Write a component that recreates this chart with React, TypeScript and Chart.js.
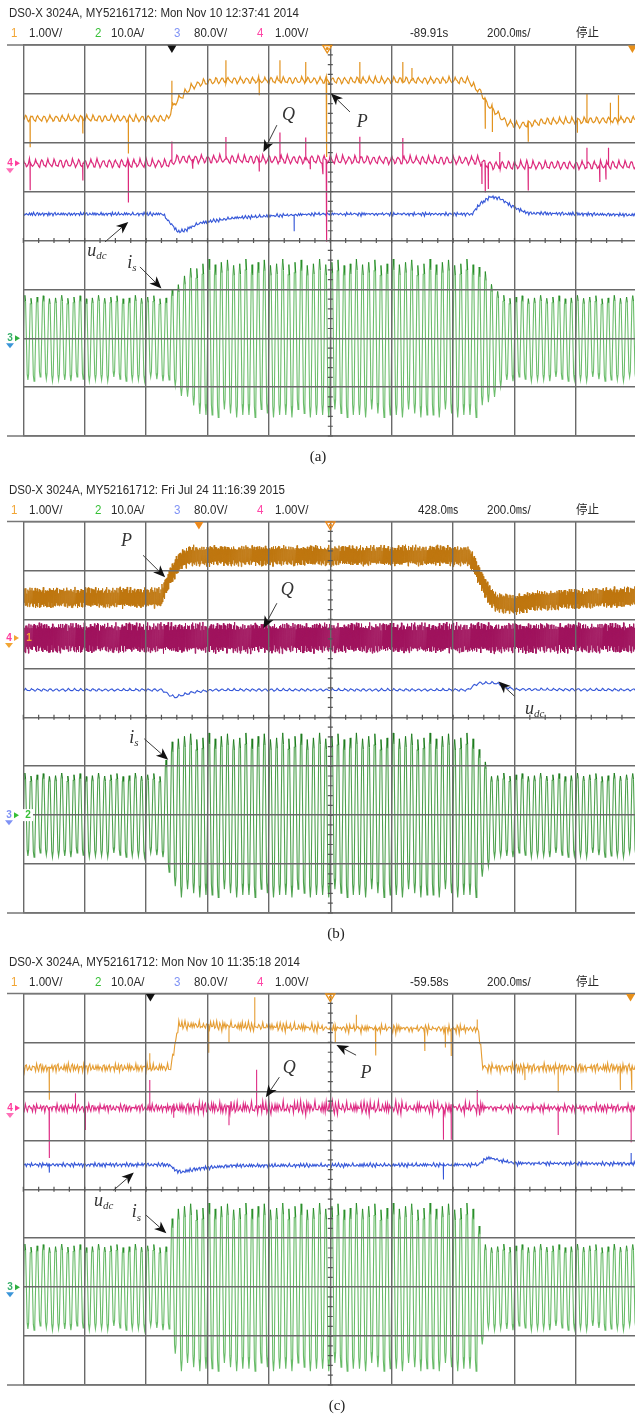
import React, { useEffect, useRef } from 'react';
import { Chart, registerables } from 'chart.js';

Chart.register(...registerables);

// ---------------- shared tables ----------------
const JIT1 = [0.62, -0.85, 0.14, 0.97, -0.33, -0.71, 0.48, 0.05, -0.94, 0.77, -0.12, 0.36, -0.58, 0.89, -0.27, -0.66, 0.21, 0.93, -0.45, 0.08, -0.81, 0.55, 0.3, -0.99, 0.71, -0.18, 0.42, -0.6, 0.84, -0.38, 0.12];
const JIT2 = [0.3, -0.8, 0.9, -0.2, -0.6, 0.7, 0.1, -0.95, 0.5, -0.4, 0.85, -0.1, -0.7, 0.6, 0.25, -0.5, 0.95];
const RIPPLE = [-0.8, 0.1, 1.0, 0.4, -0.3, -0.9];
const IS_PEAK_VAR = [1.0, 0.97, 0.93, 1.0, 0.96, 0.9, 0.99, 0.95, 0.92, 1.0, 0.94, 0.97];
const IS_SHOULDER = 0.86;

const CH_NUM = ['1', '2', '3', '4'];
const CH_SCALE = ['1.00V/', '10.0A/', '80.0V/', '1.00V/'];
const CH_COLOR = ['#f2a533', '#36bf36', '#7f92f5', '#ff45a6'];
const TIMEBASE = '200.0㎳/';
const RUN_STATE = '停止';
const IS_CENTER = 2.0;

// ---------------- panel (a) ----------------
const A_TITLE = 'DS0-X 3024A, MY52161712: Mon Nov 10 12:37:41 2014';
const A_DELAY = '-89.91s';
const A_CAPTION = '(a)';
const A_P_X = [0, 2.36, 2.42, 2.5, 2.6, 2.72, 2.9, 3.2, 7.25, 7.32, 7.47, 7.55, 7.71, 7.87, 8.04, 8.5, 10];
const A_P_Y = [6.5, 6.5, 6.72, 6.86, 6.98, 7.13, 7.23, 7.28, 7.28, 7.18, 7.01, 6.81, 6.61, 6.42, 6.36, 6.44, 6.48];
const A_P_SPIKES: [number, number][] = [[0.11, -0.59], [0.97, -0.31], [1.71, -0.72], [2.42, 0.55], [3.3, 0.41], [3.84, -0.31], [4.18, 0.41], [4.6, 0.37], [4.94, -1.57], [5.48, 0.37], [6.18, 0.37], [6.33, 0.25], [7.52, -0.6], [7.64, -0.48], [8.22, -0.37], [9.02, -0.25], [9.18, 0.55], [9.56, 0.35], [9.69, 0.5]];
const A_Q_X = [0, 2.4, 2.5, 7.4, 7.6, 10];
const A_Q_Y = [5.58, 5.58, 5.67, 5.64, 5.54, 5.55];
const A_Q_SPIKES: [number, number][] = [[0.11, -0.55], [0.97, -0.35], [1.71, -0.8], [2.42, 0.43], [2.76, -0.2], [3.3, 0.45], [3.84, -0.25], [4.18, 0.55], [4.6, 0.45], [4.67, -0.2], [4.88, -0.3], [4.94, -1.68], [5.48, 0.47], [6.18, 0.45], [7.47, -0.45], [7.52, -0.6], [7.57, -0.5], [7.76, 0.27], [8.22, -0.52], [9.18, 0.35], [9.39, -0.35], [9.49, -0.3], [9.53, 0.35]];
const A_U_X = [0, 2.27, 2.4, 2.52, 2.65, 2.88, 3.42, 3.97, 4.78, 7.31, 7.44, 7.6, 7.77, 7.93, 8.2, 10];
const A_U_Y = [4.54, 4.54, 4.35, 4.17, 4.22, 4.36, 4.46, 4.5, 4.54, 4.54, 4.75, 4.89, 4.86, 4.72, 4.56, 4.52];
const A_U_SPIKES: [number, number][] = [[4.41, -0.33]];
const A_IS_RUNS: [number, number][] = [[24, 0.88], [1, 1.0], [1, 1.18], [1, 1.33], [1, 1.45], [1, 1.55], [45, 1.62], [1, 1.52], [1, 1.38], [1, 1.2], [1, 1.02], [22, 0.88]];

// ---------------- panel (b) ----------------
const B_TITLE = 'DS0-X 3024A, MY52161712: Fri Jul 24 11:16:39 2015';
const B_DELAY = '428.0㎳';
const B_CAPTION = '(b)';
const B_P_X = [0, 2.24, 2.3, 2.38, 2.47, 2.56, 2.72, 7.22, 7.3, 7.38, 7.47, 7.58, 7.72, 8.0, 8.4, 9.4, 10];
const B_P_Y = [6.44, 6.44, 6.62, 6.85, 7.05, 7.2, 7.3, 7.3, 7.2, 7.0, 6.78, 6.52, 6.33, 6.31, 6.38, 6.44, 6.46];
const B_Q_X = [0, 10];
const B_Q_Y = [5.62, 5.62];
const B_U_X = [0, 2.26, 2.36, 2.47, 2.6, 2.75, 3.1, 7.24, 7.33, 7.42, 7.7, 7.85, 8.0, 10];
const B_U_Y = [4.56, 4.56, 4.47, 4.41, 4.46, 4.51, 4.56, 4.56, 4.64, 4.7, 4.7, 4.62, 4.57, 4.56];
const B_IS_RUNS: [number, number][] = [[23, 0.86], [1, 1.2], [1, 1.5], [49, 1.68], [1, 1.4], [1, 1.1], [24, 0.86]];

// ---------------- panel (c) ----------------
const C_TITLE = 'DS0-X 3024A, MY52161712: Mon Nov 10 11:35:18 2014';
const C_DELAY = '-59.58s';
const C_CAPTION = '(c)';
const C_P_X = [0, 2.4, 2.53, 3.5, 5.0, 7.41, 7.49, 10];
const C_P_Y = [6.48, 6.48, 7.35, 7.33, 7.29, 7.27, 6.48, 6.48];
const C_P_SPIKES: [number, number][] = [[0.42, -0.65], [2.06, 0.3], [3.02, -0.55], [3.35, -0.33], [3.77, 0.6], [5.08, -0.28], [5.42, 0.28], [5.74, -0.55], [6.54, -0.45], [6.87, -0.38], [6.97, -0.55], [7.39, 0.2], [8.17, -0.25], [8.71, -0.5], [9.72, -0.45], [9.91, -0.45]];
const C_Q_X = [0, 10];
const C_Q_Y = [5.66, 5.66];
const C_Q_NOISE_X = [0, 2.4, 2.5, 7.45, 7.55, 10];
const C_Q_NOISE_A = [0.09, 0.09, 0.15, 0.15, 0.09, 0.09];
const C_Q_SPIKES: [number, number][] = [[0.42, -1.02], [0.85, 0.3], [1.01, -0.45], [2.06, 0.57], [2.45, -0.2], [3.35, -0.35], [3.8, 0.78], [6.84, -0.65], [6.97, -0.65], [7.39, 0.37], [8.71, -0.55], [9.9, -0.7]];
const C_U_X = [0, 2.38, 2.48, 2.56, 2.9, 3.4, 7.42, 7.5, 7.58, 7.8, 8.0, 10];
const C_U_Y = [4.5, 4.5, 4.38, 4.35, 4.43, 4.48, 4.5, 4.6, 4.64, 4.58, 4.53, 4.52];
const C_U_SPIKES: [number, number][] = [[0.42, -0.16], [6.84, -0.3], [9.9, 0.22]];
const C_IS_RUNS: [number, number][] = [[24, 0.88], [1, 1.4], [49, 1.72], [1, 1.3], [25, 0.88]];

// ---------------- annotations (division units) ----------------
type Ann = { t: string; sub?: string; lx: number; ly: number; ax: number; ay: number; hx: number; hy: number };
const A_ANN: Ann[] = [
  { t: 'P', lx: 5.52, ly: 6.42, ax: 5.32, ay: 6.63, hx: 5.01, hy: 7.01 },
  { t: 'Q', lx: 4.32, ly: 6.56, ax: 4.13, ay: 6.36, hx: 3.91, hy: 5.81 },
  { t: 'u', sub: 'dc', lx: 1.2, ly: 3.78, ax: 1.33, ay: 3.97, hx: 1.71, hy: 4.38 },
  { t: 'i', sub: 's', lx: 1.77, ly: 3.53, ax: 1.9, ay: 3.46, hx: 2.25, hy: 3.02 },
];
const B_ANN: Ann[] = [
  { t: 'P', lx: 1.68, ly: 7.59, ax: 1.95, ay: 7.31, hx: 2.31, hy: 6.86 },
  { t: 'Q', lx: 4.3, ly: 6.6, ax: 4.13, ay: 6.33, hx: 3.91, hy: 5.82 },
  { t: 'u', sub: 'dc', lx: 8.33, ly: 4.16, ax: 8.0, ay: 4.43, hx: 7.74, hy: 4.73 },
  { t: 'i', sub: 's', lx: 1.8, ly: 3.57, ax: 1.97, ay: 3.56, hx: 2.36, hy: 3.13 },
];
const C_ANN: Ann[] = [
  { t: 'P', lx: 5.58, ly: 6.37, ax: 5.42, ay: 6.74, hx: 5.1, hy: 6.95 },
  { t: 'Q', lx: 4.33, ly: 6.47, ax: 4.17, ay: 6.29, hx: 3.95, hy: 5.88 },
  { t: 'u', sub: 'dc', lx: 1.31, ly: 3.75, ax: 1.47, ay: 3.98, hx: 1.8, hy: 4.34 },
  { t: 'i', sub: 's', lx: 1.84, ly: 3.52, ax: 2.0, ay: 3.47, hx: 2.33, hy: 3.1 },
];

// ---------------- helpers ----------------
type Pt = { x: number; y: number };

function levelAt(xs: number[], ys: number[], x: number): number {
  if (x <= xs[0]) return ys[0];
  for (let i = 1; i < xs.length; i++) {
    if (x <= xs[i]) {
      const t = (x - xs[i - 1]) / (xs[i] - xs[i - 1]);
      return ys[i - 1] + t * (ys[i] - ys[i - 1]);
    }
  }
  return ys[ys.length - 1];
}

function trace(lx: number[], ly: number[], spikes: [number, number][], step: number, fuzz: (i: number, x: number) => number): Pt[] {
  const n = Math.round(10 / step);
  const sp = spikes.slice().sort((a, b) => a[0] - b[0]);
  const out: Pt[] = [];
  let s = 0;
  for (let i = 0; i <= n; i++) {
    const x = i * step;
    while (s < sp.length && sp[s][0] <= x) {
      const b = levelAt(lx, ly, sp[s][0]);
      out.push({ x: sp[s][0], y: b }, { x: sp[s][0], y: b + sp[s][1] }, { x: sp[s][0], y: b });
      s++;
    }
    out.push({ x, y: levelAt(lx, ly, x) + fuzz(i, x) });
  }
  return out;
}

// one 50 Hz cycle per 0.1 div: each half-cycle drawn as shoulder-peak-shoulder
function currentTrace(runs: [number, number][]): Pt[] {
  const amps: number[] = [];
  runs.forEach(([n, a]) => {
    for (let k = 0; k < n; k++) amps.push(a);
  });
  const out: Pt[] = [{ x: 0, y: IS_CENTER }];
  amps.forEach((a, k) => {
    const x0 = k * 0.1;
    const up = a * IS_PEAK_VAR[(2 * k) % IS_PEAK_VAR.length];
    const dn = a * IS_PEAK_VAR[(2 * k + 1) % IS_PEAK_VAR.length];
    out.push({ x: x0 + 0.013, y: IS_CENTER + up * IS_SHOULDER });
    out.push({ x: x0 + 0.025, y: IS_CENTER + up });
    out.push({ x: x0 + 0.037, y: IS_CENTER + up * IS_SHOULDER });
    out.push({ x: x0 + 0.063, y: IS_CENTER - dn * IS_SHOULDER });
    out.push({ x: x0 + 0.075, y: IS_CENTER - dn });
    out.push({ x: x0 + 0.087, y: IS_CENTER - dn * IS_SHOULDER });
  });
  return out;
}

const thin = (data: Pt[], color: string, width = 1.1) => ({
  data, borderColor: color, borderWidth: width, pointRadius: 0, tension: 0, fill: false,
});

const currentSet = (runs: [number, number][], dark: string, light: string) => ({
  data: currentTrace(runs), borderColor: light, borderWidth: 1.1, pointRadius: 0, tension: 0, fill: false,
  segment: { borderColor: (c: any) => (c.p0DataIndex % 6 === 2 ? dark : light) },
});

// ---------------- panels ----------------
type Ground = { y: number; parts: { t: string; c: string; x: number; box?: boolean }[]; arrow: string; down: string };
type Trig = { x: number; c: string; ring?: boolean };
type Panel = {
  top: number; h: number; padTop: number; padBottom: number;
  title: string; titleW: number; delay: string; delayX: number; caption: string; captionX: number;
  datasets: any[]; anns: Ann[]; grounds: Ground[]; trigs: Trig[];
};

const STEP = 1 / 60;
const BAND_STEP = 1 / 120;

const PANELS: Panel[] = [
  {
    top: 0, h: 475, padTop: 45, padBottom: 39,
    title: A_TITLE, titleW: 290, delay: A_DELAY, delayX: 410, caption: A_CAPTION, captionX: 318,
    datasets: [
      thin(trace(A_P_X, A_P_Y, A_P_SPIKES, STEP, (i) => RIPPLE[i % 6] * 0.06 + JIT1[i % 31] * 0.02), '#e2931f', 1.2),
      thin(trace(A_Q_X, A_Q_Y, A_Q_SPIKES, STEP, (i) => RIPPLE[(i + 2) % 6] * 0.075 + JIT1[(i + 7) % 31] * 0.025), '#dd2a7c', 1.2),
      thin(trace(A_U_X, A_U_Y, A_U_SPIKES, STEP, (i) => JIT1[(i + 3) % 31] * 0.03 + JIT2[i % 17] * 0.015), '#3557d8', 1.1),
      currentSet(A_IS_RUNS, '#2b8d2b', '#6cbd6c'),
    ],
    anns: A_ANN,
    grounds: [
      { y: 5.58, parts: [{ t: '4', c: '#ff3d9d', x: 10 }], arrow: '#ff3d9d', down: '#ff6fb8' },
      { y: IS_CENTER, parts: [{ t: '3', c: '#35b06a', x: 10 }], arrow: '#2fae3f', down: '#3a95d8' },
    ],
    trigs: [{ x: 2.42, c: '#111' }, { x: 4.95, c: '#e8901a', ring: true }, { x: 9.92, c: '#e8901a' }],
  },
  {
    top: 475, h: 477, padTop: 46.5, padBottom: 39,
    title: B_TITLE, titleW: 276, delay: B_DELAY, delayX: 418, caption: B_CAPTION, captionX: 336,
    datasets: [
      thin(trace(B_P_X, B_P_Y, [], BAND_STEP, (i) => (i % 2 ? 1 : -1) * 0.2 * (0.55 + 0.45 * Math.abs(JIT1[i % 31])) + JIT2[i % 17] * 0.03), '#bf7710', 1),
      thin(trace(B_Q_X, B_Q_Y, [], BAND_STEP, (i) => (i % 2 ? 1 : -1) * 0.3 * (0.55 + 0.45 * Math.abs(JIT1[(i + 13) % 31])) + JIT2[(i + 5) % 17] * 0.03), '#a0145e', 1),
      thin(trace(B_U_X, B_U_Y, [], STEP, (i) => RIPPLE[i % 6] * 0.022 + JIT2[i % 17] * 0.008), '#3557d8', 1.1),
      currentSet(B_IS_RUNS, '#1f7a1f', '#4fa24f'),
    ],
    anns: B_ANN,
    grounds: [
      { y: 5.62, parts: [{ t: '4', c: '#ff3d9d', x: 9 }, { t: '1', c: '#f2a533', x: 29 }], arrow: '#f2a533', down: '#f2a533' },
      { y: IS_CENTER, parts: [{ t: '3', c: '#7f92f5', x: 9 }, { t: '2', c: '#36bf36', x: 28, box: true }], arrow: '#36bf36', down: '#7f92f5' },
    ],
    trigs: [{ x: 2.86, c: '#ee8a1c' }, { x: 5.0, c: '#ee8a1c', ring: true }],
  },
  {
    top: 952, h: 465, padTop: 41.5, padBottom: 32,
    title: C_TITLE, titleW: 291, delay: C_DELAY, delayX: 410, caption: C_CAPTION, captionX: 337,
    datasets: [
      thin(trace(C_P_X, C_P_Y, C_P_SPIKES, STEP, (i) => JIT1[i % 31] * 0.07 + JIT2[i % 17] * 0.04), '#e59d33', 1.1),
      thin(trace(C_Q_X, C_Q_Y, C_Q_SPIKES, STEP, (i, x) => (JIT1[(i + 11) % 31] * 0.7 + JIT2[(i + 3) % 17] * 0.35) * levelAt(C_Q_NOISE_X, C_Q_NOISE_A, x)), '#de2c84', 1.1),
      thin(trace(C_U_X, C_U_Y, C_U_SPIKES, STEP, (i) => JIT1[(i + 5) % 31] * 0.035 + JIT2[i % 17] * 0.015), '#3557d8', 1.1),
      currentSet(C_IS_RUNS, '#2b8d2b', '#68bb68'),
    ],
    anns: C_ANN,
    grounds: [
      { y: 5.66, parts: [{ t: '4', c: '#ff3d9d', x: 10 }], arrow: '#ff3d9d', down: '#ff6fb8' },
      { y: IS_CENTER, parts: [{ t: '3', c: '#35b06a', x: 10 }], arrow: '#2fae3f', down: '#3a95d8' },
    ],
    trigs: [{ x: 2.07, c: '#111' }, { x: 5.0, c: '#e8901a', ring: true }, { x: 9.89, c: '#e8901a' }],
  },
];

const CANVAS_W = 650;
const PLOT_LEFT = 23.3;
const PLOT_RIGHT = 637.3;
const HEAD_FONT = '12.5px "Liberation Sans", Arial, "Noto Sans CJK SC", sans-serif';

function drawArrow(ctx: CanvasRenderingContext2D, x1: number, y1: number, x2: number, y2: number) {
  const a = Math.atan2(y2 - y1, x2 - x1);
  const L = 12, W = 5;
  const c = Math.cos(a), s = Math.sin(a);
  ctx.strokeStyle = '#3a3a3a';
  ctx.lineWidth = 1;
  ctx.beginPath();
  ctx.moveTo(x1, y1);
  ctx.lineTo(x2 - c * L * 0.7, y2 - s * L * 0.7);
  ctx.stroke();
  ctx.fillStyle = '#111';
  ctx.beginPath();
  ctx.moveTo(x2, y2);
  ctx.lineTo(x2 - L * c + W * s, y2 - L * s - W * c);
  ctx.lineTo(x2 - L * 0.72 * c, y2 - L * 0.72 * s);
  ctx.lineTo(x2 - L * c - W * s, y2 - L * s + W * c);
  ctx.closePath();
  ctx.fill();
}

function makeDecor(p: Panel) {
  return {
    id: 'scopeDecor',
    afterDraw(chart: any) {
      const ctx: CanvasRenderingContext2D = chart.ctx;
      const { top, bottom } = chart.chartArea;
      const xs = chart.scales.x, ys = chart.scales.y;
      ctx.save();
      // frame
      ctx.strokeStyle = '#777';
      ctx.lineWidth = 1.6;
      ctx.beginPath();
      ctx.moveTo(7, top); ctx.lineTo(chart.width, top);
      ctx.moveTo(7, bottom); ctx.lineTo(chart.width, bottom);
      ctx.stroke();
      // minor ticks on centre axes
      const cy = ys.getPixelForValue(4), cx = xs.getPixelForValue(5);
      ctx.strokeStyle = '#555';
      ctx.lineWidth = 1.2;
      ctx.beginPath();
      for (let k = 0; k <= 40; k++) {
        const px = xs.getPixelForValue(k * 0.25);
        ctx.moveTo(px, cy - 2.5); ctx.lineTo(px, cy + 2.5);
      }
      for (let k = 0; k <= 40; k++) {
        const py = ys.getPixelForValue(k * 0.2);
        ctx.moveTo(cx - 2.5, py); ctx.lineTo(cx + 2.5, py);
      }
      ctx.stroke();
      // trigger markers
      p.trigs.forEach((t) => {
        const px = xs.getPixelForValue(t.x);
        ctx.beginPath();
        ctx.moveTo(px - 4.5, top + 0.5); ctx.lineTo(px + 4.5, top + 0.5); ctx.lineTo(px, top + 8);
        ctx.closePath();
        if (t.ring) {
          ctx.strokeStyle = t.c; ctx.lineWidth = 1.4; ctx.stroke();
          ctx.fillStyle = t.c; ctx.beginPath(); ctx.arc(px, top + 3.5, 1.6, 0, Math.PI * 2); ctx.fill();
        } else {
          ctx.fillStyle = t.c; ctx.fill();
        }
      });
      // ground markers
      p.grounds.forEach((g) => {
        const py = ys.getPixelForValue(g.y);
        ctx.font = 'bold 10px "Liberation Sans", Arial, sans-serif';
        ctx.textBaseline = 'middle';
        ctx.textAlign = 'center';
        g.parts.forEach((pt) => {
          if (pt.box) {
            ctx.fillStyle = '#fff';
            ctx.fillRect(pt.x - 5, py - 6, 10, 12);
          }
          ctx.fillStyle = pt.c;
          ctx.fillText(pt.t, pt.x, py);
        });
        const ax = g.parts[0].x + 5;
        ctx.fillStyle = g.arrow;
        ctx.beginPath();
        ctx.moveTo(ax, py - 3); ctx.lineTo(ax + 5, py); ctx.lineTo(ax, py + 3); ctx.closePath(); ctx.fill();
        ctx.fillStyle = g.down;
        const dx = g.parts[0].x;
        ctx.beginPath();
        ctx.moveTo(dx - 4, py + 5); ctx.lineTo(dx + 4, py + 5); ctx.lineTo(dx, py + 10); ctx.closePath(); ctx.fill();
      });
      // annotations
      p.anns.forEach((a) => {
        drawArrow(ctx, xs.getPixelForValue(a.ax), ys.getPixelForValue(a.ay), xs.getPixelForValue(a.hx), ys.getPixelForValue(a.hy));
        const lx = xs.getPixelForValue(a.lx), ly = ys.getPixelForValue(a.ly);
        ctx.fillStyle = '#333';
        ctx.textBaseline = 'middle';
        ctx.textAlign = 'left';
        ctx.font = 'italic 18px "Liberation Serif", "Times New Roman", serif';
        const w1 = ctx.measureText(a.t).width;
        let w2 = 0;
        if (a.sub) {
          ctx.font = 'italic 11px "Liberation Serif", "Times New Roman", serif';
          w2 = ctx.measureText(a.sub).width;
        }
        const x0 = lx - (w1 + w2) / 2;
        ctx.font = 'italic 18px "Liberation Serif", "Times New Roman", serif';
        ctx.fillText(a.t, x0, ly);
        if (a.sub) {
          ctx.font = 'italic 11px "Liberation Serif", "Times New Roman", serif';
          ctx.fillText(a.sub, x0 + w1, ly + 5);
        }
      });
      // header
      ctx.font = HEAD_FONT;
      ctx.textBaseline = 'middle';
      ctx.textAlign = 'left';
      const sx = p.titleW / ctx.measureText(p.title).width;
      const putText = (t: string, x: number, y: number, c: string) => {
        ctx.save();
        ctx.translate(x, y);
        ctx.scale(sx, 1);
        ctx.fillStyle = c;
        ctx.fillText(t, 0, 0);
        ctx.restore();
      };
      putText(p.title, 9, top - 31, '#2a2a2a');
      const chX = [11, 95, 174, 257];
      const scX = [29, 111, 194, 275];
      CH_NUM.forEach((n, i) => {
        putText(n, chX[i], top - 11, CH_COLOR[i]);
        putText(CH_SCALE[i], scX[i], top - 11, '#2a2a2a');
      });
      putText(p.delay, p.delayX, top - 11, '#2a2a2a');
      putText(TIMEBASE, 487, top - 11, '#2a2a2a');
      putText(RUN_STATE, 576, top - 11, '#2a2a2a');
      // caption
      ctx.font = '15px "Liberation Serif", "Times New Roman", serif';
      ctx.textAlign = 'center';
      ctx.fillStyle = '#222';
      ctx.fillText(p.caption, p.captionX, bottom + 21);
      ctx.restore();
    },
  };
}

function Scope({ p }: { p: Panel }) {
  const ref = useRef<HTMLCanvasElement | null>(null);
  useEffect(() => {
    if (!ref.current) return;
    const gridOpts = { color: '#6a6a6a', lineWidth: 1.4, drawTicks: false, z: 1 };
    const chart = new Chart(ref.current, {
      type: 'line',
      data: { datasets: p.datasets },
      options: {
        animation: false,
        responsive: false,
        devicePixelRatio: 1,
        events: [],
        layout: { padding: { left: PLOT_LEFT, right: CANVAS_W - PLOT_RIGHT, top: p.padTop, bottom: p.padBottom }, autoPadding: false },
        plugins: { legend: { display: false }, tooltip: { enabled: false }, title: { display: false } },
        scales: {
          x: { type: 'linear', min: 0, max: 10, ticks: { display: false, stepSize: 1 }, grid: gridOpts, border: { display: false } },
          y: { type: 'linear', min: 0, max: 8, ticks: { display: false, stepSize: 1 }, grid: gridOpts, border: { display: false } },
        },
      } as any,
      plugins: [makeDecor(p)],
    });
    return () => chart.destroy();
  }, [p]);
  return (
    <canvas
      ref={ref}
      width={CANVAS_W}
      height={p.h}
      style={{ position: 'absolute', left: 0, top: p.top, width: CANVAS_W, height: p.h }}
    />
  );
}

export default function App() {
  return (
    <div style={{ position: 'fixed', left: 0, top: 0, width: 635, height: 1417, overflow: 'hidden', background: '#fff' }}>
      {PANELS.map((p, i) => (
        <Scope key={i} p={p} />
      ))}
    </div>
  );
}
